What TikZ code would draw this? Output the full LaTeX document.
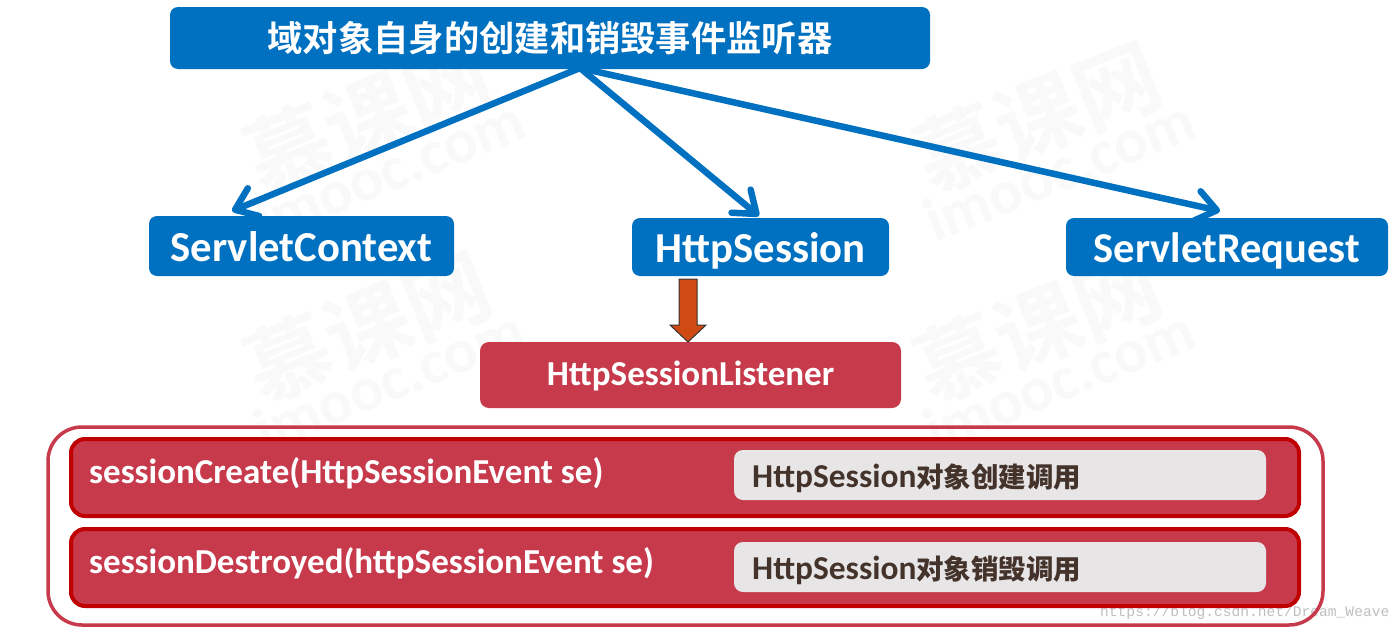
\documentclass[tikz,border=0pt]{standalone}
\usepackage{fontspec}
\setmainfont{Carlito}[BoldFont={Carlito Bold}]
\newfontfamily\cjk{Noto Sans CJK SC Bold}
\newfontfamily\wmono{Liberation Mono}
\usetikzlibrary{arrows.meta}
\definecolor{bluebox}{HTML}{0070C0}
\definecolor{redbox}{HTML}{C73A4C}
\definecolor{darkred}{HTML}{C00000}
\definecolor{greybox}{HTML}{E7E5E6}
\definecolor{browntext}{HTML}{44332B}
\definecolor{blockarrow}{HTML}{D04A14}
\definecolor{wmark}{HTML}{F9F9F9}
\tikzset{
  x=1pt,y=-1pt,
  box/.style={inner sep=0pt,outer sep=0pt,anchor=north west},
  bluenode/.style={box,fill=bluebox,rounded corners=8pt,text=white,font=\bfseries\fontsize{42.7}{43}\selectfont,align=center,text height=30pt,text depth=0pt},
  conn/.style={draw=bluebox,line width=6.5pt,line cap=round,-{Straight Barb[length=20pt,width=30pt,line width=6.5pt,round]}},
  rowbox/.style={box,draw=darkred,line width=4pt,fill=redbox,rounded corners=14pt,minimum width=1228pt,minimum height=77pt},
  greyn/.style={box,fill=greybox,rounded corners=9pt,minimum width=532pt,minimum height=50pt},
  method/.style={anchor=base west,inner sep=0pt,text=white,font=\bfseries\fontsize{35}{35}\selectfont},
  note/.style={anchor=base west,inner sep=0pt,text=browntext,font=\bfseries\fontsize{33.4}{33.4}\selectfont},
  wm/.style={text=wmark,rotate=22,inner sep=0pt,align=center},
}
\begin{document}
\begin{tikzpicture}
\useasboundingbox (0,0) rectangle (1400,629);
\fill[white] (0,0) rectangle (1400,629);
% watermarks
\foreach \n/\xx/\yy in {wa/375/135,wb/1045/135,wc/375/345,wd/1045/345}{
  \node[wm] (\n) at (\xx,\yy) {{\cjk\fontsize{85}{90}\selectfont 慕课网}\\[-6pt]{\bfseries\fontsize{62}{62}\selectfont imooc.com}};
}
\node[bluenode,minimum width=760pt,minimum height=62pt,font=\cjk\fontsize{35.3}{35.3}\selectfont,text height=28pt,text depth=2pt] (top) at (170,7) {域对象自身的创建和销毁事件监听器};
\node[bluenode,minimum width=305pt,minimum height=60pt] (ctx) at (149,216) {ServletContext};
\node[bluenode,minimum width=257pt,minimum height=58pt] (sess) at (632,218) {HttpSession};
\node[bluenode,minimum width=322pt,minimum height=58pt,font=\bfseries\fontsize{42.5}{43}\selectfont] (req) at (1066,218) {ServletRequest};
\node[box,fill=redbox,rounded corners=9pt,minimum width=421pt,minimum height=66pt,text=white,font=\bfseries\fontsize{35}{35}\selectfont,text height=20pt,text depth=0pt] (lis) at (480,342) {HttpSessionListener};
\coordinate (hub) at (580,68);
\coordinate (ctxin) at (232,211);
\coordinate (sessin) at (759,216);
\coordinate (reqin) at (1220,211);
\draw[conn] (hub) -- (ctxin);
\draw[conn] (hub) -- (sessin);
\draw[conn] (hub) -- (reqin);
% block arrow
\draw[fill=blockarrow,draw=black!80,line width=1pt,line join=miter]
  (679,279) -- (697,279) -- (697,325) -- (706,325) -- (688,342) -- (670,325) -- (679,325) -- cycle;
% url lies under the panel outline
\node[anchor=base west,inner sep=0pt,text=black!25,font=\wmono\fontsize{14.6}{14.6}\selectfont] (url) at (1100,616) {https://blog.csdn.net/Dream\_Weave};
% panel
\node[box,draw=redbox,line width=3.5pt,rounded corners=34pt,minimum width=1275pt,minimum height=198pt] (panel) at (48,427) {};
\node[rowbox] (rowa) at (71,439) {};
\node[rowbox] (rowb) at (71,529) {};
\node[greyn] (nota) at (734,450) {};
\node[greyn] (notb) at (734,542) {};
\node[method] (ma) at (89,483) {sessionCreate(HttpSessionEvent se)};
\node[method] (mb) at (89,573) {sessionDestroyed(httpSessionEvent se)};
\node[note] (na) at (752,487) {HttpSession{\cjk\fontsize{27.5}{27.5}\selectfont 对象创建调用}};
\node[note] (nb) at (752,579) {HttpSession{\cjk\fontsize{27.5}{27.5}\selectfont 对象销毁调用}};
\end{tikzpicture}
\end{document}
